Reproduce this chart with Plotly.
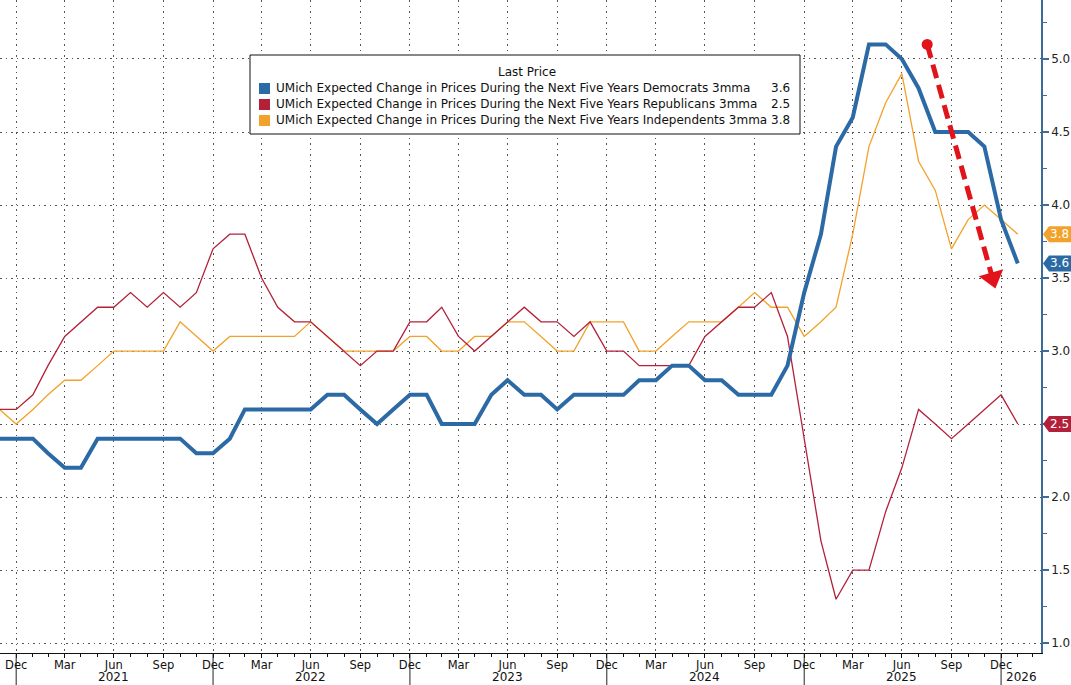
import pandas as pd
import plotly.graph_objects as go

# ---------------- data ----------------
MONTHS = pd.date_range("2020-11-30", periods=63, freq="ME")  # Nov 2020 .. Jan 2026 (month-end)

DEM = [2.4, 2.4, 2.4, 2.3, 2.2, 2.2, 2.4, 2.4, 2.4, 2.4, 2.4, 2.4, 2.3, 2.3, 2.4, 2.6,
       2.6, 2.6, 2.6, 2.6, 2.7, 2.7, 2.6, 2.5, 2.6, 2.7, 2.7, 2.5, 2.5, 2.5, 2.7, 2.8,
       2.7, 2.7, 2.6, 2.7, 2.7, 2.7, 2.7, 2.8, 2.8, 2.9, 2.9, 2.8, 2.8, 2.7, 2.7, 2.7,
       2.9, 3.4, 3.8, 4.4, 4.6, 5.1, 5.1, 5.0, 4.8, 4.5, 4.5, 4.5, 4.4, 3.9, 3.6]

REP = [2.6, 2.6, 2.7, 2.9, 3.1, 3.2, 3.3, 3.3, 3.4, 3.3, 3.4, 3.3, 3.4, 3.7, 3.8, 3.8,
       3.5, 3.3, 3.2, 3.2, 3.1, 3.0, 2.9, 3.0, 3.0, 3.2, 3.2, 3.3, 3.1, 3.0, 3.1, 3.2,
       3.3, 3.2, 3.2, 3.1, 3.2, 3.0, 3.0, 2.9, 2.9, 2.9, 2.9, 3.1, 3.2, 3.3, 3.3, 3.4,
       3.1, 2.4, 1.7, 1.3, 1.5, 1.5, 1.9, 2.2, 2.6, 2.5, 2.4, 2.5, 2.6, 2.7, 2.5]

IND = [2.6, 2.5, 2.6, 2.7, 2.8, 2.8, 2.9, 3.0, 3.0, 3.0, 3.0, 3.2, 3.1, 3.0, 3.1, 3.1,
       3.1, 3.1, 3.1, 3.2, 3.1, 3.0, 3.0, 3.0, 3.0, 3.1, 3.1, 3.0, 3.0, 3.1, 3.1, 3.2,
       3.2, 3.1, 3.0, 3.0, 3.2, 3.2, 3.2, 3.0, 3.0, 3.1, 3.2, 3.2, 3.2, 3.3, 3.4, 3.3,
       3.3, 3.1, 3.2, 3.3, 3.8, 4.4, 4.7, 4.9, 4.3, 4.1, 3.7, 3.9, 4.0, 3.9, 3.8]

NAMES = [
    "UMich Expected Change in Prices During the Next Five Years Democrats 3mma",
    "UMich Expected Change in Prices During the Next Five Years Republicans 3mma",
    "UMich Expected Change in Prices During the Next Five Years Independents 3mma",
]
LEGEND_TITLE = "Last Price"

TICK_DATES = pd.date_range("2020-12-31", "2025-12-31", freq="3ME")
TICK_TEXT = [d.strftime("%b") for d in TICK_DATES]
MINOR_DATES = pd.date_range("2020-12-31", "2026-02-28", freq="ME")
YEAR_SEP_DATES = pd.date_range("2020-12-31", "2025-12-31", freq="12ME")
YEAR_LABELS = ["2021", "2022", "2023", "2024", "2025", "2026"]
YEAR_LABEL_DATES = ["2021-06-30", "2022-06-30", "2023-06-30", "2024-06-30", "2025-06-30", "2026-02-07"]

ARROW_X = ["2025-08-16", "2025-12-15"]
ARROW_Y = [5.10, 3.50]

# ---------------- styling ----------------
C_DEM = "#2c6aa6"
C_REP = "#b3203a"
C_IND = "#f2a22a"
C_ARROW = "#e0141a"
C_AXIS = "#3d6c9b"
FONT = "DejaVu Sans"

W, H = 1071, 685
ML, MR, MT, MB = 0, 30, 0, 32
PW, PH = W - ML - MR, H - MT - MB


def pxx(x):
    return x / PW


def pxy(y):
    return 1 - y / PH


fig = go.Figure()

fig.add_trace(go.Scatter(x=MONTHS, y=IND, mode="lines", line=dict(color=C_IND, width=1.3),
                         name=NAMES[2], showlegend=False))
fig.add_trace(go.Scatter(x=MONTHS, y=REP, mode="lines", line=dict(color=C_REP, width=1.3),
                         name=NAMES[1], showlegend=False))
fig.add_trace(go.Scatter(x=MONTHS, y=DEM, mode="lines", line=dict(color=C_DEM, width=4),
                         name=NAMES[0], showlegend=False))

# red dashed arrow
fig.add_trace(go.Scatter(
    x=ARROW_X, y=ARROW_Y, mode="lines",
    line=dict(color=C_ARROW, width=5, dash="14px,7px"),
    showlegend=False, hoverinfo="skip", cliponaxis=False))
fig.add_trace(go.Scatter(
    x=ARROW_X[:1], y=ARROW_Y[:1], mode="markers",
    marker=dict(symbol="circle", size=11, color=C_ARROW, line=dict(width=0)),
    showlegend=False, hoverinfo="skip", cliponaxis=False))
fig.add_trace(go.Scatter(
    x=ARROW_X, y=ARROW_Y, mode="markers",
    marker=dict(symbol="triangle-up", size=[0, 22], color=C_ARROW, opacity=1,
                angleref="previous", line=dict(width=0)),
    showlegend=False, hoverinfo="skip", cliponaxis=False))

shapes = []
annotations = []

# year separators below the x axis
for d in YEAR_SEP_DATES:
    shapes.append(dict(type="line", xref="x", yref="paper", x0=d, x1=d,
                       y0=0, y1=-MB / PH, line=dict(color="#222", width=1)))
for lbl, d in zip(YEAR_LABELS, YEAR_LABEL_DATES):
    annotations.append(dict(x=d, y=0, xref="x", yref="paper", text=lbl, showarrow=False,
                            yanchor="middle", yshift=-24, font=dict(family=FONT, size=12, color="#111")))

# legend box
shapes.append(dict(type="rect", xref="paper", yref="paper",
                   x0=pxx(250), x1=pxx(800), y0=pxy(134), y1=pxy(55),
                   line=dict(color="#111", width=1), fillcolor="white", layer="above"))
annotations.append(dict(x=pxx(527), y=pxy(72), xref="paper", yref="paper", text=LEGEND_TITLE,
                        showarrow=False, xanchor="center", yanchor="middle",
                        font=dict(family=FONT, size=12, color="#111")))
last_vals = [DEM[-1], REP[-1], IND[-1]]
cols = [C_DEM, C_REP, C_IND]
row_y = [88, 104, 120]
for name, v, c, ry in zip(NAMES, last_vals, cols, row_y):
    shapes.append(dict(type="rect", xref="paper", yref="paper",
                       x0=pxx(259), x1=pxx(270), y0=pxy(ry + 6), y1=pxy(ry - 5),
                       line=dict(width=0), fillcolor=c, layer="above"))
    annotations.append(dict(x=pxx(274), y=pxy(ry), xref="paper", yref="paper", text=name,
                            xanchor="left", yanchor="middle", showarrow=False,
                            font=dict(family=FONT, size=12, color="#111")))
    annotations.append(dict(x=pxx(792), y=pxy(ry), xref="paper", yref="paper", text=f"{v:.1f}",
                            xanchor="right", yanchor="middle", showarrow=False,
                            font=dict(family=FONT, size=12, color="#111")))

# last-value tags on right axis
hh = 8 / 146.0
for v, c in zip(last_vals, cols):
    x0 = 1 + 2 / PW
    x1 = 1 + 8 / PW
    x2 = 1 + 31 / PW
    path = f"M {x0},{v} L {x1},{v + hh} L {x2},{v + hh} L {x2},{v - hh} L {x1},{v - hh} Z"
    shapes.append(dict(type="path", xref="paper", yref="y", path=path,
                       fillcolor=c, line=dict(width=0), layer="above"))
    annotations.append(dict(x=1 + 18 / PW, y=v, xref="paper", yref="y", text=f"{v:.1f}",
                            showarrow=False, xanchor="center", yanchor="middle",
                            font=dict(family=FONT, size=12, color="white")))

fig.update_layout(
    width=W, height=H,
    margin=dict(l=ML, r=MR, t=MT, b=MB, pad=0),
    paper_bgcolor="white", plot_bgcolor="white",
    font=dict(family=FONT, size=12, color="#111"),
    showlegend=False,
    shapes=shapes, annotations=annotations,
    xaxis=dict(
        range=["2020-12-01", "2026-03-15"],
        tickmode="array", tickvals=TICK_DATES, ticktext=TICK_TEXT,
        ticks="outside", ticklen=4, tickcolor="#111", tickwidth=1,
        ticklabelstandoff=-3,
        tickfont=dict(family=FONT, size=11.5, color="#111"),
        showline=True, linecolor="#111", linewidth=1,
        showgrid=True, gridcolor="#555", griddash="1.5px,4px", gridwidth=1,
        minor=dict(tickmode="array", tickvals=MINOR_DATES, ticks="outside", ticklen=3,
                   tickcolor="#111", showgrid=False),
        zeroline=False,
    ),
    yaxis=dict(
        side="right", range=[0.932, 5.404],
        tickmode="linear", tick0=1.0, dtick=0.5, tickformat=".1f",
        ticks="outside", ticklen=6, tickwidth=2, tickcolor=C_AXIS,
        tickfont=dict(family=FONT, size=12, color="#222"),
        showline=True, linecolor=C_AXIS, linewidth=1.5,
        showgrid=True, gridcolor="#555", griddash="1.5px,4px", gridwidth=1,
        minor=dict(dtick=0.25, tick0=1.0, ticks="outside", ticklen=4, tickcolor=C_AXIS,
                   tickwidth=1, showgrid=False),
        zeroline=False,
    ),
)

fig.write_html("out.html", config={"displayModeBar": False},
               post_script="document.body.style.margin='0';document.body.style.overflow='hidden';")
